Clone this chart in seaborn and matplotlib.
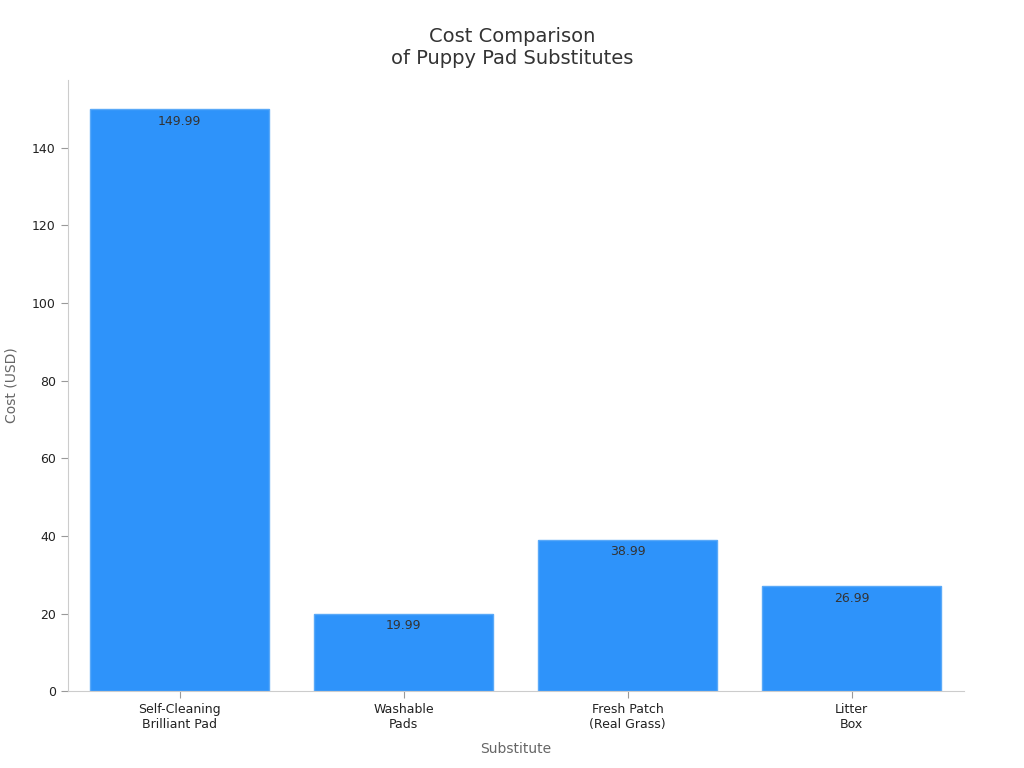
import matplotlib
matplotlib.use("Agg")
import matplotlib.pyplot as plt
import seaborn as sns
import pandas as pd

categories = ["Self-Cleaning\nBrilliant Pad", "Washable\nPads", "Fresh Patch\n(Real Grass)", "Litter\nBox"]
costs = [149.99, 19.99, 38.99, 26.99]
labels = ["149.99", "19.99", "38.99", "26.99"]

df = pd.DataFrame({"Substitute": categories, "Cost": costs})

sns.set_style("white")
fig = plt.figure(figsize=(10.24, 7.68), dpi=100)
ax = fig.add_axes([0.066, 0.100, 0.875, 0.796])
sns.barplot(data=df, x="Substitute", y="Cost", color="#2E93FA", saturation=1,
            width=0.8, edgecolor="#5aa9f8", linewidth=1, ax=ax)
for p, lab in zip(ax.patches, labels):
    ax.annotate(lab, (p.get_x() + p.get_width() / 2, p.get_height()),
                xytext=(0, -4), textcoords="offset points", ha="center", va="top",
                fontsize=9, color="#333333")
ax.set_ylim(0, 157.5)
ax.set_xlim(-0.5, 3.5)
for s in ["top", "right"]:
    ax.spines[s].set_visible(False)
for s in ["left", "bottom"]:
    ax.spines[s].set_color("#cccccc")
ax.tick_params(axis="both", left=True, bottom=True, colors="#222222", labelsize=9, length=5)
ax.tick_params(axis="both", color="#999999")
ax.set_xlabel("Substitute", fontsize=10, color="#666666", labelpad=8)
ax.set_ylabel("Cost (USD)", fontsize=10, color="#666666", labelpad=10)
fig.suptitle("Cost Comparison\nof Puppy Pad Substitutes", fontsize=14, color="#333333", y=0.965)
fig.savefig("out.png", dpi=100)
